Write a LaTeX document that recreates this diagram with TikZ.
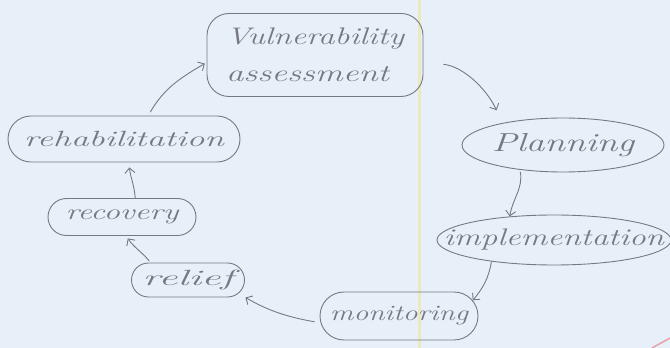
\documentclass[tikz,border=0pt]{standalone}
\usepackage{graphicx}
\usetikzlibrary{shapes.geometric,shapes.misc,arrows.meta}
\definecolor{paper}{RGB}{231,240,248}
\definecolor{pencil}{RGB}{118,120,130}
\definecolor{papermargin}{RGB}{238,232,192}
\definecolor{pinkedge}{RGB}{232,160,170}
\newcommand\hw[2]{\resizebox{#1}{\height}{#2}}
\tikzset{
  box/.style={draw=pencil, line width=0.9pt, inner sep=0pt},
  oval/.style={box, ellipse},
  sausage/.style={box, rounded rectangle},
  hand/.style={text=pencil, inner sep=0pt},
  arr/.style={draw=pencil, line width=0.9pt, -{Straight Barb[length=5pt,width=10pt]}},
}
\begin{document}
\begin{tikzpicture}[x=1pt,y=1pt]
\fill[paper] (0,0) rectangle (670,348);
\useasboundingbox (0,0) rectangle (670,348);
\fill[papermargin] (418,0) rectangle (420.5,348);
\draw[pinkedge, line width=1.5pt] (652,0) -- (670,10);

\node[box, rounded corners=22pt, minimum width=216, minimum height=83, text=pencil,
      align=left, font=\itshape\fontsize{24}{37}\selectfont] (vuln) at (315,293)
      {\hw{178pt}{Vulnerability}\\\hw{163pt}{assessment}};
\node[oval, minimum width=202, minimum height=54,
      label={[hand, font=\itshape\fontsize{26}{30}\selectfont]center:\hw{142pt}{Planning}}] (plan) at (563,203) {};
\node[oval, minimum width=234, minimum height=50,
      label={[hand, font=\itshape\fontsize{24}{28}\selectfont]center:\hw{220pt}{implementation}}] (impl) at (554,108) {};
\node[sausage, minimum width=158, minimum height=48,
      label={[hand, font=\itshape\fontsize{22}{26}\selectfont]center:\hw{138pt}{monitoring}}] (mon) at (399,32) {};
\node[sausage, minimum width=113, minimum height=34,
      label={[hand, font=\itshape\fontsize{22}{26}\selectfont]center:\hw{91pt}{relief}}] (relief) at (188,68) {};
\node[sausage, minimum width=148, minimum height=37,
      label={[hand, font=\itshape\fontsize{22}{26}\selectfont]center:\hw{113pt}{recovery}}] (recov) at (122,131) {};
\node[sausage, minimum width=232, minimum height=46,
      label={[hand, font=\itshape\fontsize{22}{26}\selectfont]center:\hw{200pt}{rehabilitation}}] (rehab) at (124,209) {};

\draw[arr, shorten <=20pt, shorten >=14pt] (vuln.-4) to[out=-5, in=115] (plan.160);
\draw[arr, shorten <=2pt] (plan.210) to[out=-80, in=80] (impl.152);
\draw[arr] (impl.199) to[out=-100, in=50] (mon.12);
\draw[arr, shorten <=6pt, shorten >=8pt] (mon.185) to[out=170, in=-30] (relief.-15);
\draw[arr, shorten <=2pt, shorten >=3pt] (relief.155) to[out=130, in=-55] (recov.-78);
\draw[arr, shorten >=5pt] (recov.55) to[out=95, in=-85] (rehab.-78);
\draw[arr, shorten <=4pt, shorten >=2pt] (rehab.44) to[out=60, in=210] (vuln.184);
\end{tikzpicture}
\end{document}
